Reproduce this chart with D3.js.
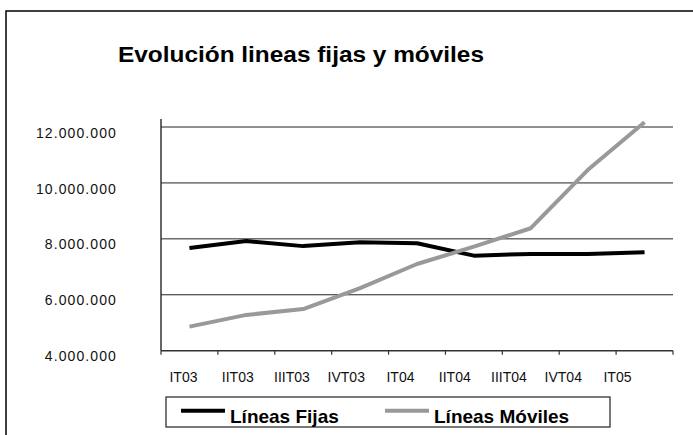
<!DOCTYPE html>
<html>
<head>
<meta charset="utf-8">
<script src="https://cdn.jsdelivr.net/npm/d3@7"></script>
<style>
  html, body { margin: 0; padding: 0; background: #fff; }
  svg { display: block; font-family: "Liberation Sans", Arial, sans-serif; }
</style>
</head>
<body>
<div id="chart"></div>
<script>
// --------------- Data ---------------
const quarters = ["IT03", "IIT03", "IIIT03", "IVT03", "IT04", "IIT04", "IIIT04", "IVT04", "IT05"];
const fijas = [7670000, 7920000, 7740000, 7880000, 7840000, 7400000, 7460000, 7460000, 7520000];
const moviles = [4860000, 5280000, 5490000, 6240000, 7100000, 7720000, 8380000, 10460000, 12170000];
const yTicks = [4000000, 6000000, 8000000, 10000000, 12000000];
const seriesNames = ["Líneas Fijas", "Líneas Móviles"];
const seriesColors = ["#000000", "#999999"];

const WIDTH = 693;
const HEIGHT = 435;
const PLOT = { left: 161, right: 673, top: 127, bottom: 350.7 };

const locale = d3.formatLocale({ decimal: ",", thousands: ".", grouping: [3], currency: ["", "€"] });
const fmt = locale.format(",d");

const svg = d3.select("#chart")
  .append("svg")
  .attr("width", WIDTH)
  .attr("height", HEIGHT);

// outer frame (runs off the right and bottom edges)
svg.append("path")
  .attr("d", `M6,${HEIGHT + 5}V11H${WIDTH + 5}`)
  .attr("fill", "none")
  .attr("stroke", "#000")
  .attr("stroke-width", 1.5);

// title
svg.append("text")
  .attr("x", 118)
  .attr("y", 62)
  .attr("textLength", 366)
  .attr("lengthAdjust", "spacingAndGlyphs")
  .style("font-size", "21.5px")
  .style("font-weight", "bold")
  .text("Evolución lineas fijas y móviles");

// --------------- Scales ---------------
const x = d3.scaleBand().domain(quarters).range([PLOT.left, PLOT.right]);
const xLabel = d3.scalePoint().domain(quarters).range([183.5, 617.5]);
const y = d3.scaleLinear().domain([4000000, 12000000]).range([PLOT.bottom, PLOT.top]);

// gridlines
svg.append("g")
  .selectAll("line")
  .data(yTicks.slice(1))
  .enter()
  .append("line")
  .attr("x1", PLOT.left)
  .attr("x2", PLOT.right)
  .attr("y1", d => y(d))
  .attr("y2", d => y(d))
  .attr("stroke", "#222")
  .attr("stroke-width", 1);

// y axis
const yAxis = svg.append("g")
  .attr("transform", `translate(${PLOT.left},0)`)
  .call(d3.axisLeft(y).tickValues(yTicks).tickFormat(fmt).tickSize(0).tickPadding(44));
yAxis.select(".domain")
  .attr("d", `M0,${PLOT.bottom}V${PLOT.top - 8}`)
  .attr("stroke", "#333")
  .attr("stroke-width", 1.5);
yAxis.selectAll("text")
  .attr("y", 0)
  .attr("dy", "0.72em")
  .style("font-size", "14px")
  .style("letter-spacing", "1.1px")
  .style("fill", "#111");

// x axis (ticks on band edges)
const xAxis = svg.append("g").attr("transform", `translate(0,${PLOT.bottom})`);
xAxis.append("line")
  .attr("x1", PLOT.left)
  .attr("x2", PLOT.right)
  .attr("stroke", "#333")
  .attr("stroke-width", 1.5);
xAxis.selectAll("line.tick")
  .data(quarters.concat(["__end"]))
  .enter()
  .append("line")
  .attr("class", "tick")
  .attr("x1", d => d === "__end" ? PLOT.right : x(d))
  .attr("x2", d => d === "__end" ? PLOT.right : x(d))
  .attr("y1", 0)
  .attr("y2", 4)
  .attr("stroke", "#333")
  .attr("stroke-width", 1.2);
xAxis.selectAll("text")
  .data(quarters)
  .enter()
  .append("text")
  .attr("x", d => xLabel(d))
  .attr("y", 31)
  .attr("text-anchor", "middle")
  .style("font-size", "14px")
  .style("fill", "#111")
  .text(d => d);

// --------------- Lines ---------------
const line = d3.line()
  .x((d, i) => x(quarters[i]) + x.bandwidth() / 2)
  .y(d => y(d));

[fijas, moviles].forEach((values, k) => {
  svg.append("path")
    .datum(values)
    .attr("d", line)
    .attr("fill", "none")
    .attr("stroke", seriesColors[k])
    .attr("stroke-width", 4)
    .attr("stroke-linejoin", "round");
});

// --------------- Legend ---------------
const legend = svg.append("g");
legend.append("rect")
  .attr("x", 166)
  .attr("y", 397)
  .attr("width", 444)
  .attr("height", 30)
  .attr("fill", "#fff")
  .attr("stroke", "#222")
  .attr("stroke-width", 1.2);

const legendX = [181, 385];
seriesNames.forEach((name, k) => {
  legend.append("line")
    .attr("x1", legendX[k])
    .attr("x2", legendX[k] + 44)
    .attr("y1", 410.7)
    .attr("y2", 410.7)
    .attr("stroke", seriesColors[k])
    .attr("stroke-width", 4);
  legend.append("text")
    .attr("x", legendX[k] + 49)
    .attr("y", 423.3)
    .style("font-size", "19px")
    .style("font-weight", "bold")
    .text(name);
});
</script>
</body>
</html>
